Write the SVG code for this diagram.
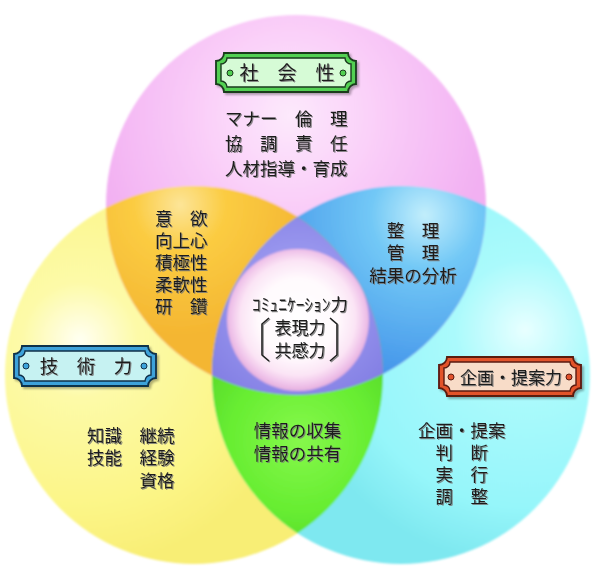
<svg xmlns="http://www.w3.org/2000/svg" width="595" height="580" viewBox="0 0 595 580">
<style>
.t{font-family:"Noto Sans CJK JP","Noto Sans CJK SC",sans-serif;font-size:17.5px;fill:#1e1e1e;filter:url(#ts)}
.lb{font-family:"Noto Sans CJK JP","Noto Sans CJK SC",sans-serif;fill:#1e1e1e;filter:url(#ts)}
.br{fill:none;stroke:#1e1e1e;stroke-width:1.6;filter:url(#ts)}
.dk{stroke-width:1.8}
</style>
<defs>
<filter id="ts" x="-10%" y="-20%" width="125%" height="150%"><feDropShadow dx="1" dy="1" stdDeviation="0.4" flood-color="#777" flood-opacity="0.85"/></filter>
<filter id="bs" x="-10%" y="-20%" width="125%" height="150%"><feDropShadow dx="2" dy="2" stdDeviation="1.2" flood-color="#000" flood-opacity="0.3"/></filter>
<filter id="soft" x="-5%" y="-5%" width="110%" height="110%"><feGaussianBlur stdDeviation="1.3"/></filter>
<clipPath id="cP"><circle cx="296" cy="205" r="190"/></clipPath>
<clipPath id="cY"><circle cx="194" cy="375" r="189"/></clipPath>
<radialGradient id="gP" gradientUnits="userSpaceOnUse" cx="290" cy="115" r="200"><stop offset="0" stop-color="#fde9fc"/><stop offset="0.5" stop-color="#f9cbf8"/><stop offset="1" stop-color="#f2b0f2"/></radialGradient>
<radialGradient id="gY" gradientUnits="userSpaceOnUse" cx="80" cy="340" r="230"><stop offset="0" stop-color="#fffff2"/><stop offset="0.25" stop-color="#fdfaa8"/><stop offset="0.7" stop-color="#fcf689"/><stop offset="1" stop-color="#f8ee74"/></radialGradient>
<radialGradient id="gC" gradientUnits="userSpaceOnUse" cx="525" cy="330" r="235"><stop offset="0" stop-color="#e8ffff"/><stop offset="0.3" stop-color="#aafafc"/><stop offset="0.75" stop-color="#96f6fa"/><stop offset="1" stop-color="#7ee8f0"/></radialGradient>
<radialGradient id="gO" gradientUnits="userSpaceOnUse" cx="180" cy="205" r="130"><stop offset="0" stop-color="#fde598"/><stop offset="0.35" stop-color="#fbcc42"/><stop offset="1" stop-color="#f4b632"/></radialGradient>
<radialGradient id="gB" gradientUnits="userSpaceOnUse" cx="425" cy="215" r="180"><stop offset="0" stop-color="#c2eefc"/><stop offset="0.3" stop-color="#72c8f6"/><stop offset="1" stop-color="#3e8ee8"/></radialGradient>
<radialGradient id="gG" gradientUnits="userSpaceOnUse" cx="300" cy="440" r="115"><stop offset="0" stop-color="#86f84c"/><stop offset="0.6" stop-color="#68ee32"/><stop offset="1" stop-color="#58da2a"/></radialGradient>
<radialGradient id="gT" gradientUnits="userSpaceOnUse" cx="298" cy="300" r="110"><stop offset="0" stop-color="#aaa8f6"/><stop offset="1" stop-color="#8480e4"/></radialGradient>
<radialGradient id="gM" gradientUnits="userSpaceOnUse" cx="298" cy="318" r="72"><stop offset="0" stop-color="#ffffff"/><stop offset="0.55" stop-color="#fffafd"/><stop offset="0.8" stop-color="#fbe4f5"/><stop offset="0.93" stop-color="#f0c4ea"/><stop offset="1" stop-color="#e6b2e0"/></radialGradient>
</defs>
<rect width="595" height="580" fill="#ffffff"/>
<g id="venn" filter="url(#soft)">
<g id="circle-gijutsu"><circle cx="194" cy="375" r="189" fill="url(#gY)"/></g>
<g id="circle-kikaku"><circle cx="401" cy="375" r="189" fill="url(#gC)"/></g>
<g id="circle-shakai"><circle cx="296" cy="205" r="190" fill="url(#gP)"/></g>
<g id="overlap-py" clip-path="url(#cP)"><circle cx="194" cy="375" r="189" fill="url(#gO)"/></g>
<g id="overlap-pc" clip-path="url(#cP)"><circle cx="401" cy="375" r="189" fill="url(#gB)"/></g>
<g id="overlap-yc" clip-path="url(#cY)"><circle cx="401" cy="375" r="189" fill="url(#gG)"/></g>
<g id="overlap-all" clip-path="url(#cP)"><g clip-path="url(#cY)"><circle cx="401" cy="375" r="189" fill="url(#gT)"/></g></g>
<circle cx="298" cy="320" r="71" fill="url(#gM)"/>
</g>
<g id="center-node">
<text class="lb" x="300" y="311" font-size="17" text-anchor="middle" textLength="96" lengthAdjust="spacingAndGlyphs">ｺﾐｭﾆｹｰｼｮﾝ力</text>
<path class="br" d="M269 318 L262 324 V355 L269 361"/>
<path class="br" d="M330 318 L337 324 V355 L330 361"/>
<text class="lb" font-size="17" text-anchor="middle"><tspan x="300" y="333.5">表現力</tspan><tspan x="300" y="356.5">共感力</tspan></text>
</g>
<g id="label-shakai">
<path filter="url(#bs)" class="dk" fill="#52d052" stroke="#1a3a1e" d="M224 53 H348 A8 8 0 0 0 356 61 V84 A8 8 0 0 0 348 92 H224 A8 8 0 0 0 216 84 V61 A8 8 0 0 0 224 53 Z"/>
<path fill="#d6fbd6" stroke="#1a3a1e" stroke-width="1.4" d="M227 58 H345 A6 6 0 0 0 351 64 V81 A6 6 0 0 0 345 87 H227 A6 6 0 0 0 221 81 V64 A6 6 0 0 0 227 58 Z"/>
<circle cx="230" cy="73" r="3" fill="#52d052" stroke="#1a3a1e" stroke-width="1"/>
<circle cx="343" cy="73" r="3" fill="#52d052" stroke="#1a3a1e" stroke-width="1"/>
<text class="lb" x="287" y="80" font-size="19" text-anchor="middle">社　会　性</text>
</g>
<g id="label-gijutsu">
<path filter="url(#bs)" class="dk" fill="#3ca2da" stroke="#10304a" d="M22 346 H148 A8 8 0 0 0 156 354 V378 A8 8 0 0 0 148 386 H22 A8 8 0 0 0 14 378 V354 A8 8 0 0 0 22 346 Z"/>
<path fill="#c6f2f2" stroke="#10304a" stroke-width="1.4" d="M25 351 H145 A6 6 0 0 0 151 357 V375 A6 6 0 0 0 145 381 H25 A6 6 0 0 0 19 375 V357 A6 6 0 0 0 25 351 Z"/>
<circle cx="26" cy="366" r="3" fill="#3ca2da" stroke="#10304a" stroke-width="1"/>
<circle cx="144" cy="366" r="3" fill="#3ca2da" stroke="#10304a" stroke-width="1"/>
<text class="lb" x="86" y="373" font-size="18.5" text-anchor="middle">技　術　力</text>
</g>
<g id="label-kikaku">
<path filter="url(#bs)" class="dk" fill="#e2522c" stroke="#5a1a10" d="M447 357 H573 A8 8 0 0 0 581 365 V388 A8 8 0 0 0 573 396 H447 A8 8 0 0 0 439 388 V365 A8 8 0 0 0 447 357 Z"/>
<path fill="#f8dcc8" stroke="#5a1a10" stroke-width="1.4" d="M450 362 H570 A6 6 0 0 0 576 368 V385 A6 6 0 0 0 570 391 H450 A6 6 0 0 0 444 385 V368 A6 6 0 0 0 450 362 Z"/>
<circle cx="451" cy="377" r="3" fill="#e2522c" stroke="#5a1a10" stroke-width="1"/>
<circle cx="569" cy="377" r="3" fill="#e2522c" stroke="#5a1a10" stroke-width="1"/>
<text class="lb" x="511" y="383.5" font-size="17" text-anchor="middle">企画・提案力</text>
</g>
<g id="text-shakai">
<text class="t"><tspan x="225" y="124.5">マナー　倫　理</tspan><tspan x="225" y="149.5">協　調　責　任</tspan><tspan x="225" y="174.5">人材指導・育成</tspan></text>
</g>
<g id="text-py">
<text class="t"><tspan x="155" y="224.5">意　欲</tspan><tspan x="155" y="246.5">向上心</tspan><tspan x="155" y="268.5">積極性</tspan><tspan x="155" y="290.5">柔軟性</tspan><tspan x="155" y="312.5">研　鑽</tspan></text>
</g>
<g id="text-pc">
<text class="t" text-anchor="middle"><tspan x="413" y="236.5">整　理</tspan><tspan x="413" y="258.5">管　理</tspan><tspan x="413" y="281.5">結果の分析</tspan></text>
</g>
<g id="text-gijutsu">
<text class="t"><tspan x="87" y="441.5">知識　継続</tspan><tspan x="87" y="464">技能　経験</tspan><tspan x="87" y="486.5">　　　資格</tspan></text>
</g>
<g id="text-yc">
<text class="t" font-size="17" text-anchor="middle"><tspan x="297.5" y="436.5">情報の収集</tspan><tspan x="297.5" y="459.5">情報の共有</tspan></text>
</g>
<g id="text-kikaku">
<text class="t"><tspan x="418" y="436.5">企画・提案</tspan><tspan x="418" y="458.5">　判　断</tspan><tspan x="418" y="480.5">　実　行</tspan><tspan x="418" y="502.5">　調　整</tspan></text>
</g>
</svg>
